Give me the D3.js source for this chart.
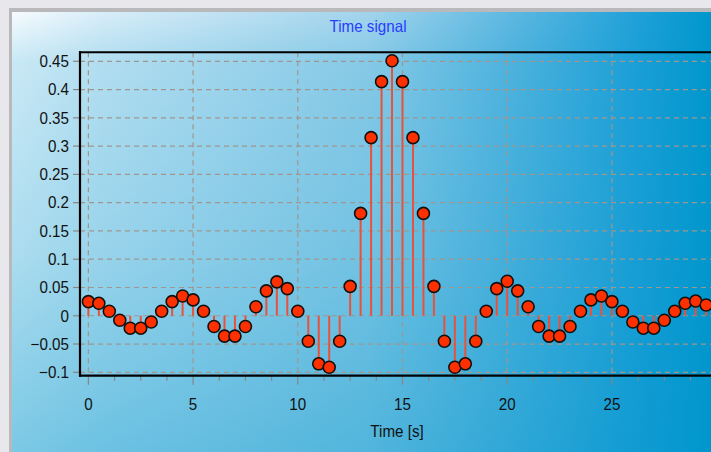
<!DOCTYPE html>
<html><head><meta charset="utf-8">
<script src="https://cdn.jsdelivr.net/npm/d3@7"></script>
<style>html,body{margin:0;padding:0;background:#e8e8ec;overflow:hidden}</style>
</head><body>
<svg id="c" width="711" height="452"></svg>
<script>
// Data: sample times (s) and signal values
const times = [0,0.5,1,1.5,2,2.5,3,3.5,4,4.5,5,5.5,6,6.5,7,7.5,8,8.5,9,9.5,
  10,10.5,11,11.5,12,12.5,13,13.5,14,14.5,15,15.5,16,16.5,17,17.5,18,18.5,19,19.5,
  20,20.5,21,21.5,22,22.5,23,23.5,24,24.5,25,25.5,26,26.5,27,27.5,28,28.5,29,29.5];
const values = [0.025,0.022,0.008,-0.008,-0.022,-0.022,-0.011,0.008,0.025,0.035,
  0.028,0.008,-0.019,-0.036,-0.036,-0.019,0.016,0.044,0.060,0.048,
  0.008,-0.045,-0.085,-0.091,-0.045,0.052,0.181,0.315,0.414,0.451,
  0.414,0.315,0.181,0.052,-0.045,-0.091,-0.085,-0.045,0.008,0.048,
  0.061,0.044,0.016,-0.019,-0.036,-0.036,-0.019,0.008,0.028,0.035,
  0.025,0.008,-0.011,-0.022,-0.022,-0.008,0.008,0.022,0.026,0.019];
const xTicks = [0,5,10,15,20,25];
const yTicks = [-0.1,-0.05,0,0.05,0.1,0.15,0.2,0.25,0.3,0.35,0.4,0.45];
const titleText = "Time signal";
const xTitle = "Time [s]";

const svg = d3.select("#c");
const font = "'Liberation Sans',Arial,sans-serif";

// background
const defs = svg.append("defs");
const hg = defs.append("linearGradient").attr("id","bgH")
  .attr("gradientUnits","userSpaceOnUse").attr("x1",12).attr("y1",0).attr("x2",711).attr("y2",0);
[[0,"#f6fbfe"],[0.13,"#d8edf8"],[0.51,"#a2d4ec"],[0.73,"#58b6e0"],[0.9,"#1ea0d8"],[1,"#0097cc"]]
  .forEach(([o,c])=>hg.append("stop").attr("offset",o).attr("stop-color",c));
const vg = defs.append("linearGradient").attr("id","bgV")
  .attr("gradientUnits","userSpaceOnUse").attr("x1",0).attr("y1",12).attr("x2",0).attr("y2",452);
[[0,0],[0.11,0.18],[0.55,0.3],[1,0.5]]
  .forEach(([o,a])=>vg.append("stop").attr("offset",o).attr("stop-color","#0096cc").attr("stop-opacity",a));
svg.append("rect").attr("x",9).attr("y",8).attr("width",720).attr("height",460).attr("fill","#b9b9bb");
svg.append("rect").attr("x",12).attr("y",12).attr("width",720).attr("height",460).attr("fill","url(#bgH)");
svg.append("rect").attr("x",12).attr("y",12).attr("width",720).attr("height",460).attr("fill","url(#bgV)");

const L = 80, T = 52.3, B = 375.7, R = 740;
const x = d3.scaleLinear().domain([-0.4,30.4]).range([80,725]);
const y = d3.scaleLinear().domain([-0.1,0.45]).range([372.3,61.3]);

const grid = svg.append("g").attr("stroke","#a0968e").attr("stroke-width",1.2).attr("stroke-dasharray","5,4");
grid.selectAll(".h").data(yTicks).join("line")
  .attr("x1",L).attr("x2",R).attr("y1",d=>y(d)).attr("y2",d=>y(d));
grid.selectAll(".v").data(xTicks).join("line")
  .attr("y1",T).attr("y2",B).attr("x1",d=>x(d)).attr("x2",d=>x(d));

// ticks
const tk = svg.append("g").attr("stroke","#8a8580").attr("stroke-width",1.2);
tk.selectAll(".yt").data(yTicks).join("line")
  .attr("x1",L-7).attr("x2",L).attr("y1",d=>y(d)).attr("y2",d=>y(d));
tk.selectAll(".xt").data(xTicks).join("line")
  .attr("y1",B).attr("y2",B+9).attr("x1",d=>x(d)).attr("x2",d=>x(d));
const minor = d3.range(0,30.1,1.25).filter(v=>!xTicks.includes(v));
tk.selectAll(".xm").data(minor).join("line")
  .attr("y1",B).attr("y2",B+5).attr("x1",d=>x(d)).attr("x2",d=>x(d));

// stems
svg.append("g").selectAll("line").data(values).join("line")
  .attr("x1",(d,i)=>x(times[i])).attr("x2",(d,i)=>x(times[i]))
  .attr("y1",y(0)).attr("y2",d=>y(d))
  .attr("stroke","#e8523c").attr("stroke-width",2);

// axes frame
svg.append("line").attr("x1",L).attr("x2",L).attr("y1",T-1).attr("y2",B+1).attr("stroke","#000").attr("stroke-width",2.2);
svg.append("line").attr("x1",L-1).attr("x2",R).attr("y1",B).attr("y2",B).attr("stroke","#000").attr("stroke-width",2.2);
svg.append("line").attr("x1",L-1).attr("x2",R).attr("y1",T).attr("y2",T).attr("stroke","#000").attr("stroke-width",2);

// markers
svg.append("g").selectAll("circle").data(values).join("circle")
  .attr("cx",(d,i)=>x(times[i])).attr("cy",d=>y(d)).attr("r",6)
  .attr("fill","#ff3000").attr("stroke","#111").attr("stroke-width",1.6);

// labels (slightly condensed)
const sx = 0.92;
svg.append("g").selectAll("text").data(yTicks).join("text")
  .attr("transform",d=>`translate(69,${y(d)}) scale(${sx},1)`).attr("dy","0.35em").attr("text-anchor","end")
  .attr("font-family",font).attr("font-size",16.5).attr("fill","#111")
  .text(d=>d3.format("")(+d.toFixed(2)));
svg.append("g").selectAll("text").data(xTicks).join("text")
  .attr("transform",d=>`translate(${x(d)},404) scale(${sx},1)`).attr("dy","0.35em").attr("text-anchor","middle")
  .attr("font-family",font).attr("font-size",16.5).attr("fill","#111").text(d=>d);
svg.append("text").attr("transform",`translate(397,431) scale(${sx},1)`).attr("dy","0.35em").attr("text-anchor","middle")
  .attr("font-family",font).attr("font-size",16.5).attr("fill","#111").text(xTitle);
svg.append("text").attr("transform",`translate(368,26) scale(${sx},1)`).attr("dy","0.35em").attr("text-anchor","middle")
  .attr("font-family",font).attr("font-size",16.5).attr("fill","#2a3cff").text(titleText);
</script>
</body></html>
